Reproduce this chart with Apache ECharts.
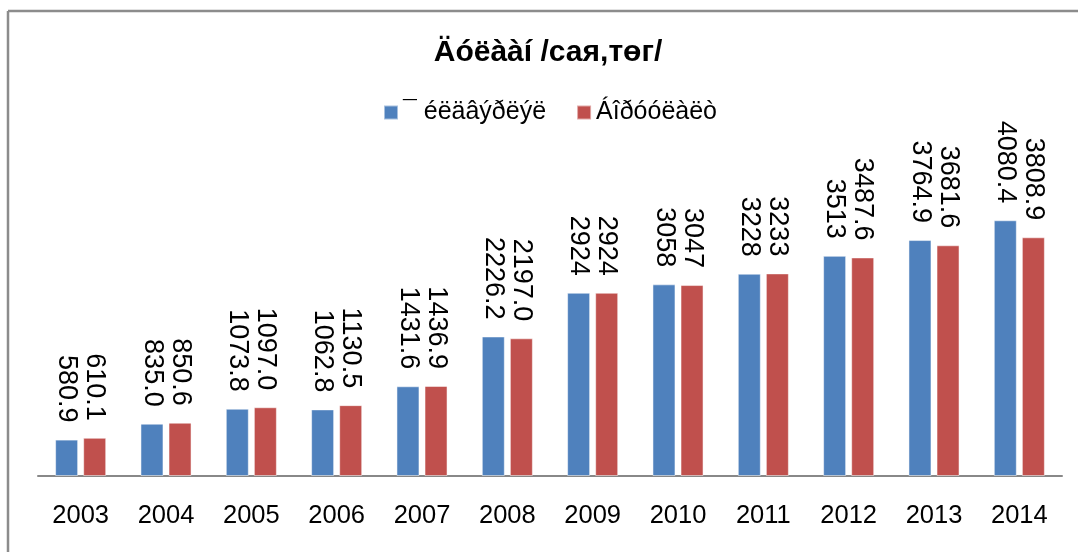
<!DOCTYPE html>
<html lang="en">

<head>
  <meta charset="UTF-8">
  <title>Chart</title>
  <script src="https://cdn.jsdelivr.net/npm/echarts@6/dist/echarts.min.js"></script>
  <style>
    html, body { margin: 0; padding: 0; background: #fff; }
  </style>
</head>

<body>
  <div id="main" style="width: 1078px; height: 552px"></div>

  <script>
    const years = ['2003', '2004', '2005', '2006', '2007', '2008', '2009', '2010', '2011', '2012', '2013', '2014']
    const plan = [580.9, 835.0, 1073.8, 1062.8, 1431.6, 2226.2, 2924, 3058, 3228, 3513, 3764.9, 4080.4]
    const actual = [610.1, 850.6, 1097.0, 1130.5, 1436.9, 2197.0, 2924, 3047, 3233, 3487.6, 3681.6, 3808.9]
    // label text as printed (some keep a trailing .0, some have no decimals)
    const planText = ['580.9', '835.0', '1073.8', '1062.8', '1431.6', '2226.2', '2924', '3058', '3228', '3513', '3764.9', '4080.4']
    const actualText = ['610.1', '850.6', '1097.0', '1130.5', '1436.9', '2197.0', '2924', '3047', '3233', '3487.6', '3681.6', '3808.9']
    const titleText = 'Äóëààí /сая,төг/'
    const seriesNames = ['¯ éëäâýðëýë', 'Áîðóóëàëò']

    const font = 'Liberation Sans, Arial, sans-serif'

    const label = (texts) => ({
      show: true,
      position: 'top',
      distance: 17,
      rotate: -90,
      align: 'right',
      verticalAlign: 'middle',
      color: '#000',
      fontFamily: font,
      fontSize: 27,
      formatter: (p) => texts[p.dataIndex]
    })

    const myChart = echarts.init(document.getElementById('main'))

    const option = {
      animation: false,
      title: {
        text: titleText,
        left: 548,
        top: 38,
        padding: 0,
        textAlign: 'center',
        textStyle: { fontFamily: font, fontSize: 30, fontWeight: 'bold', color: '#000' }
      },
      legend: {
        left: 383,
        top: 100,
        padding: 0,
        itemWidth: 14,
        itemHeight: 14,
        itemGap: 30,
        icon: 'rect',
        textStyle: { fontFamily: font, fontSize: 25, color: '#000' }
      },
      grid: { left: 38, right: 16, top: 194, bottom: 76 },
      xAxis: {
        type: 'category',
        data: years,
        axisTick: { show: false },
        axisLine: { lineStyle: { color: '#888', width: 2 } },
        axisLabel: { color: '#000', fontFamily: font, fontSize: 25.5, margin: 27 }
      },
      yAxis: {
        type: 'value',
        min: 0,
        max: 4500,
        show: false
      },
      graphic: [
        { type: 'line', shape: { x1: 8, y1: 11, x2: 1078, y2: 11 }, style: { stroke: '#8c8c8c', lineWidth: 2.5 } },
        { type: 'line', shape: { x1: 8, y1: 11, x2: 8, y2: 552 }, style: { stroke: '#8c8c8c', lineWidth: 2.5 } }
      ],
      series: [
        {
          name: seriesNames[0],
          type: 'bar',
          data: plan,
          barWidth: 23,
          barGap: '22%',
          itemStyle: { color: '#4F81BD', borderColor: 'rgba(255,255,255,0.5)', borderWidth: 1 },
          label: label(planText)
        },
        {
          name: seriesNames[1],
          type: 'bar',
          data: actual,
          barWidth: 23,
          itemStyle: { color: '#C0504D', borderColor: 'rgba(255,255,255,0.5)', borderWidth: 1 },
          label: label(actualText)
        }
      ]
    }

    myChart.setOption(option)
  </script>
</body>

</html>
